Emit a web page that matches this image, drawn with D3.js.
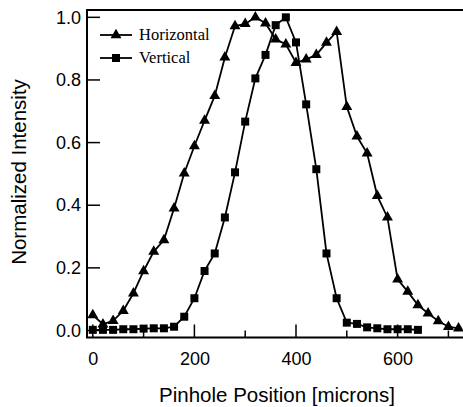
<!DOCTYPE html>
<html>
<head>
<meta charset="utf-8">
<script src="https://cdn.jsdelivr.net/npm/d3@7"></script>
<style>
  body { margin: 0; background: #fff; }
  svg { display: block; }
  .tick text { font-family: "Liberation Sans", Arial, sans-serif; font-size: 18px; fill: #000; }
</style>
</head>
<body>
<script>
// data (positions in microns, normalized intensity)
const horizX = [0, 20, 40, 60, 80, 100, 120, 140, 160, 180, 200, 220, 240, 260, 280, 300, 320, 340, 360,
  380, 400, 420, 440, 460, 480, 500, 520, 540, 560, 580, 600, 620, 640, 660, 680, 700, 720];
const horizY = [0.049, 0.02, 0.031, 0.063, 0.119, 0.19, 0.252, 0.289, 0.39, 0.502, 0.589, 0.67, 0.749, 0.872,
  0.972, 0.979, 1.0, 0.981, 0.93, 0.914, 0.855, 0.866, 0.88, 0.919, 0.954, 0.714, 0.62, 0.566, 0.43, 0.361,
  0.163, 0.124, 0.081, 0.055, 0.03, 0.012, 0.007];
const vertX = [0, 20, 40, 60, 80, 100, 120, 140, 160, 180, 200, 220, 240, 260, 280, 300, 320, 340, 360,
  380, 400, 420, 440, 460, 480, 500, 520, 540, 560, 580, 600, 620, 640];
const vertY = [0.002, 0.002, 0.002, 0.004, 0.004, 0.006, 0.007, 0.007, 0.012, 0.044, 0.103, 0.19, 0.246,
  0.361, 0.505, 0.667, 0.805, 0.88, 0.975, 1.0, 0.92, 0.722, 0.515, 0.246, 0.103, 0.025, 0.021, 0.01,
  0.007, 0.004, 0.004, 0.004, 0.002];
const seriesNames = ["Horizontal", "Vertical"];
const xTicks = [0, 200, 400, 600];
const xMinorTicks = [100, 300, 500, 700];
const yTicks = [0, 0.2, 0.4, 0.6, 0.8, 1.0];

const w = 463, h = 407;
const padL = 87, padT = 10, padR = 470, padB = 337.5;

const svg = d3.select("body").append("svg")
  .attr("width", w)
  .attr("height", h);

const xScale = d3.scaleLinear().domain([-11.4, 742.5]).range([padL, padR]);
const yScale = d3.scaleLinear().domain([-0.0224, 1.0234]).range([padB, padT]);

// frame: left, top, bottom
svg.append("path")
  .attr("d", `M${padR},${padT}H${padL}V${padB}H${padR}`)
  .attr("fill", "none")
  .attr("stroke", "#000")
  .attr("stroke-width", 2);

// x axis: ticks point up into the plot
const xAxis = d3.axisBottom(xScale).tickValues(xTicks).tickFormat(d3.format("d")).tickSize(0).tickPadding(15);
const gx = svg.append("g").attr("transform", `translate(0,${padB})`).call(xAxis);
gx.select(".domain").remove();
svg.append("g").selectAll("line")
  .data(xTicks)
  .join("line")
  .attr("x1", (d) => xScale(d)).attr("x2", (d) => xScale(d))
  .attr("y1", padB).attr("y2", padB - 13)
  .attr("stroke", "#000").attr("stroke-width", 1.5);
svg.append("g").selectAll("line")
  .data(xMinorTicks)
  .join("line")
  .attr("x1", (d) => xScale(d)).attr("x2", (d) => xScale(d))
  .attr("y1", padB).attr("y2", padB - 7)
  .attr("stroke", "#000").attr("stroke-width", 1.5);

// y axis: ticks point right into the plot
const yAxis = d3.axisLeft(yScale).tickValues(yTicks).tickFormat(d3.format(".1f")).tickSize(0).tickPadding(6);
const gy = svg.append("g").attr("transform", `translate(${padL},0)`).call(yAxis);
gy.select(".domain").remove();
svg.append("g").selectAll("line")
  .data(yTicks)
  .join("line")
  .attr("x1", padL).attr("x2", padL + 13)
  .attr("y1", (d) => yScale(d)).attr("y2", (d) => yScale(d))
  .attr("stroke", "#000").attr("stroke-width", 1.5);

// axis titles
svg.append("text")
  .attr("x", 277).attr("y", 402)
  .attr("text-anchor", "middle")
  .attr("font-family", "Liberation Sans, Arial, sans-serif")
  .attr("font-size", 20.5)
  .text("Pinhole Position [microns]");
svg.append("text")
  .attr("transform", "translate(26,172) rotate(-90)")
  .attr("text-anchor", "middle")
  .attr("font-family", "Liberation Sans, Arial, sans-serif")
  .attr("font-size", 20.5)
  .text("Normalized Intensity");

const line = d3.line().x((d) => xScale(d[0])).y((d) => yScale(d[1]));
const horiz = horizX.map((x, i) => [x, horizY[i]]);
const vert = vertX.map((x, i) => [x, vertY[i]]);

const tri = d3.symbol().type(d3.symbolTriangle).size(52);
const sq = d3.symbol().type(d3.symbolSquare).size(64);

const plot = svg.append("g");
[[horiz, tri], [vert, sq]].forEach(([data, sym]) => {
  plot.append("path")
    .datum(data)
    .attr("d", line)
    .attr("fill", "none")
    .attr("stroke", "#000")
    .attr("stroke-width", 1.8);
  plot.selectAll(null)
    .data(data)
    .join("path")
    .attr("transform", (d) => `translate(${xScale(d[0])},${yScale(d[1])})`)
    .attr("d", sym)
    .attr("fill", "#000");
});

// legend
const legend = svg.append("g");
[tri, sq].forEach((sym, i) => {
  const y = 35 + i * 23;
  legend.append("line")
    .attr("x1", 100).attr("x2", 132).attr("y1", y).attr("y2", y)
    .attr("stroke", "#000").attr("stroke-width", 1.8);
  legend.append("path")
    .attr("transform", `translate(116,${y})`)
    .attr("d", sym)
    .attr("fill", "#000");
  legend.append("text")
    .attr("x", 139).attr("y", y + 5)
    .attr("font-family", "Liberation Serif, Times New Roman, serif")
    .attr("font-size", 16.5)
    .text(seriesNames[i]);
});
</script>
</body>
</html>
